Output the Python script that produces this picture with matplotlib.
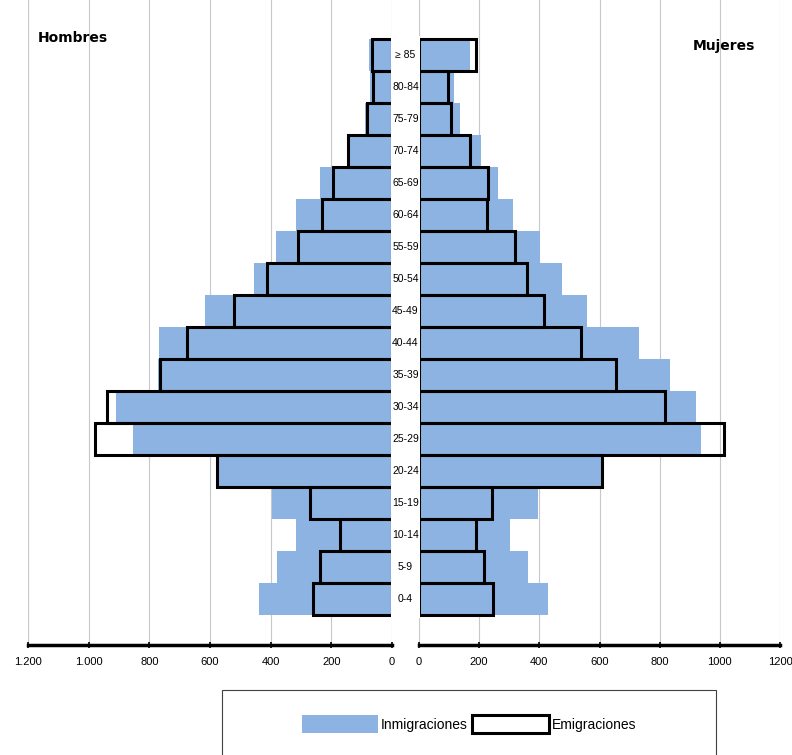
import matplotlib
matplotlib.use('Agg')
import matplotlib.pyplot as plt
import matplotlib.transforms as mtrans
from matplotlib.patches import Rectangle, Patch

# age groups, bottom to top
ages = ['0-4', '5-9', '10-14', '15-19', '20-24', '25-29', '30-34', '35-39', '40-44',
        '45-49', '50-54', '55-59', '60-64', '65-69', '70-74', '75-79', '80-84', '≥ 85']

# Hombres
hom_inmig = [437, 380, 318, 394, 575, 853, 911, 770, 767, 618, 454, 383, 318, 236, 140, 88, 72, 75]
hom_emig = [260, 236, 171, 269, 578, 979, 939, 765, 675, 521, 413, 311, 230, 193, 145, 82, 62, 67]

# Mujeres
muj_inmig = [428, 363, 303, 397, 613, 937, 920, 834, 730, 560, 475, 403, 313, 262, 206, 135, 118, 170]
muj_emig = [246, 216, 189, 241, 608, 1014, 817, 655, 540, 416, 360, 319, 227, 230, 170, 108, 97, 189]

left_ticks = [1200, 1000, 800, 600, 400, 200, 0]
left_labels = ['1.200', '1.000', '800', '600', '400', '200', '0']
right_ticks = [0, 200, 400, 600, 800, 1000, 1200]
right_labels = ['0', '200', '400', '600', '800', '1000', '1200']

blue = '#8db3e2'
font = ['Liberation Sans', 'DejaVu Sans']

W, H = 792, 755
fig = plt.figure(figsize=(W / 100, H / 100), dpi=100)

bottom = 1 - 645 / H
ax_l = fig.add_axes([28 / W, bottom, (392 - 28) / W, 1 - bottom])
ax_r = fig.add_axes([419 / W, bottom, (780 - 419) / W, 1 - bottom])

y = list(range(len(ages)))

for ax, inm, emi, ticks, labels in [(ax_l, hom_inmig, hom_emig, left_ticks, left_labels),
                                    (ax_r, muj_inmig, muj_emig, right_ticks, right_labels)]:
    ax.barh(y, inm, height=1.0, color=blue, edgecolor='none', zorder=2)
    ax.barh(y, emi, height=1.0, facecolor='none', edgecolor='black', linewidth=2.2, zorder=3)
    ax.set_xlim(0, 1200)
    ax.set_ylim(-1.44, 18.72)
    ax.set_xticks(ticks)
    ax.set_xticklabels(labels, family=font, fontsize=8)
    ax.set_yticks([])
    ax.grid(axis='x', color='#c8c8c8', linewidth=0.8, zorder=0)
    for s in ['top', 'left', 'right']:
        ax.spines[s].set_visible(False)
    ax.spines['bottom'].set_linewidth(2.5)
    ax.tick_params(axis='x', direction='inout', length=5, width=1.2, pad=6)

ax_l.invert_xaxis()

# white column in the middle with the age labels
fig.patches.append(Rectangle((391 / W, 1 - 618 / H), (420 - 391) / W, (618 - 36) / H,
                             transform=fig.transFigure, facecolor='white',
                             edgecolor='none', zorder=5))
trans = mtrans.blended_transform_factory(fig.transFigure, ax_l.transData)
for i, a in enumerate(ages):
    fig.text(405.5 / W, i, a, transform=trans, ha='center', va='center',
             family=font, fontsize=7.5, zorder=6)

fig.text(38 / W, 1 - 38 / H, 'Hombres', fontsize=10, fontweight='bold', va='center')
fig.text(693 / W, 1 - 46 / H, 'Mujeres', fontsize=10, fontweight='bold', va='center')

# legend box (runs off the bottom of the image)
fig.patches.append(Rectangle((222 / W, -0.05), (716 - 222) / W, 0.05 + (755 - 690) / H,
                             transform=fig.transFigure, facecolor='white',
                             edgecolor='#404040', linewidth=0.8))
handles = [Patch(facecolor=blue, edgecolor='none', label='Inmigraciones'),
           Patch(facecolor='white', edgecolor='black', linewidth=2.2, label='Emigraciones')]
fig.legend(handles=handles, loc='center', bbox_to_anchor=(469 / W, 1 - 724 / H), ncol=2,
           frameon=False, handlelength=5.5, handleheight=1.6, handletextpad=0.2,
           columnspacing=0.3, prop={'family': font, 'size': 10})

fig.savefig('out.png', dpi=100)
